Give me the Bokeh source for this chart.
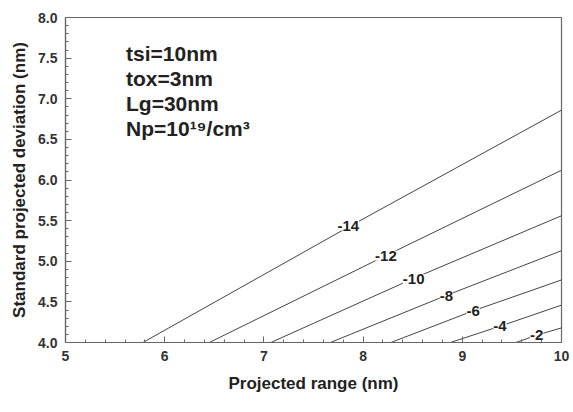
from bokeh.plotting import figure
from bokeh.models import ColumnDataSource, Range1d, FixedTicker, PrintfTickFormatter
from bokeh.core.properties import value
from bokeh.embed import file_html
from bokeh.resources import INLINE

# contour levels and their lines (start on x-axis, through label, to right edge)
levels = ["-14", "-12", "-10", "-8", "-6", "-4", "-2"]
line_x = [
    [5.78, 7.85, 10.0],
    [6.45, 8.23, 10.0],
    [7.07, 8.51, 10.0],
    [7.67, 8.84, 10.0],
    [8.28, 9.11, 10.0],
    [8.88, 9.38, 10.0],
    [9.54, 9.75, 10.0],
]
line_y = [
    [4.0, 5.42, 6.86],
    [4.0, 5.07, 6.12],
    [4.0, 4.79, 5.56],
    [4.0, 4.58, 5.13],
    [4.0, 4.39, 4.77],
    [4.0, 4.20, 4.46],
    [4.0, 4.09, 4.18],
]
label_x = [7.85, 8.23, 8.51, 8.84, 9.11, 9.38, 9.75]
label_y = [5.44, 5.07, 4.78, 4.57, 4.39, 4.20, 4.09]

params = ["tsi=10nm", "tox=3nm", "Lg=30nm", "Np=10\u00b9\u2079/cm\u00b3"]

x_ticks = [5, 6, 7, 8, 9, 10]
y_ticks = [4.0, 4.5, 5.0, 5.5, 6.0, 6.5, 7.0, 7.5, 8.0]

FONT = "Liberation Sans"

p = figure(width=573, height=412, output_backend="svg", toolbar_location=None,
           x_range=Range1d(5, 10), y_range=Range1d(4, 8),
           min_border_left=65, min_border_right=12, min_border_top=17,
           min_border_bottom=70)
p.grid.visible = False
p.outline_line_color = "#666666"
p.outline_line_width = 1.2

p.multi_line(xs=line_x, ys=line_y, line_color="#444444", line_width=1)

src = ColumnDataSource(dict(x=label_x, y=label_y, t=levels))
p.text(x="x", y="y", text="t", source=src, text_font=value(FONT),
       text_font_style="bold", text_font_size="15px", text_color="#222222",
       text_align="center", text_baseline="middle",
       background_fill_color="white")

py = [7.56 - i * 0.31 for i in range(len(params))]
p.text(x=[5.61] * len(params), y=py, text=params, text_font=value(FONT),
       text_font_style="bold", text_font_size="21px", text_color="#222222",
       text_align="left", text_baseline="middle")

for ax in (p.xaxis, p.yaxis):
    ax.axis_line_color = "#666666"
    ax.axis_line_width = 1.2
    ax.major_tick_in = 6
    ax.major_tick_out = 0
    ax.minor_tick_in = 3
    ax.minor_tick_out = 0
    ax.major_tick_line_color = "#666666"
    ax.minor_tick_line_color = "#666666"
    ax.major_label_text_font = FONT
    ax.major_label_text_font_style = "bold"
    ax.major_label_text_font_size = "14px"
    ax.major_label_text_color = "#333333"
    ax.axis_label_text_font = FONT
    ax.axis_label_text_font_style = "bold"
    ax.axis_label_text_font_size = "17px"
    ax.axis_label_text_color = "#222222"

p.xaxis.ticker = FixedTicker(ticks=x_ticks,
                             minor_ticks=[5 + 0.2 * i for i in range(26)])
p.yaxis.ticker = FixedTicker(ticks=y_ticks,
                             minor_ticks=[4 + 0.1 * i for i in range(41)])
p.yaxis.formatter = PrintfTickFormatter(format="%.1f")
p.xaxis.axis_label = "Projected range (nm)"
p.yaxis.axis_label = "Standard projected deviation (nm)"
p.xaxis.major_label_standoff = 8
p.yaxis.major_label_standoff = 8
p.xaxis.axis_label_standoff = 10
p.yaxis.axis_label_standoff = 6

open("out.html", "w").write(file_html(p, INLINE))
